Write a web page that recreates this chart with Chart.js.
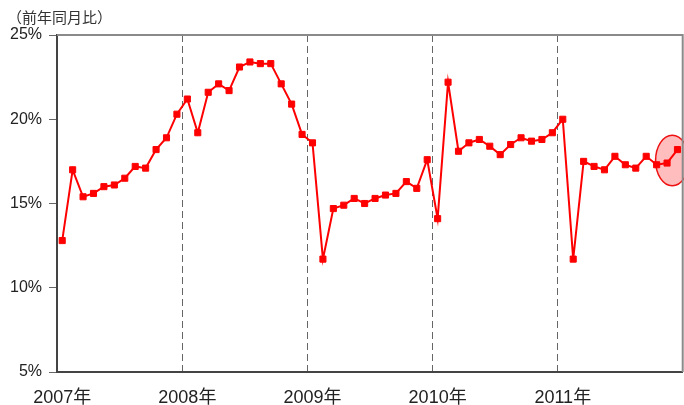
<!DOCTYPE html>
<html>
<head>
<meta charset="utf-8">
<script src="https://cdn.jsdelivr.net/npm/chart.js@4"></script>
<style>
    body { margin: 0; background: #fff; overflow: hidden; }
    #wrap { position: relative; width: 684px; height: 405px; overflow: hidden; }
    #unit {
        position: absolute; left: 7px; top: 8px;
        font: 15px 'Noto Sans CJK JP', sans-serif; line-height: 17px; color: #333;
    }
</style>
</head>
<body>
<div id="wrap">
    <div id="unit">（前年同月比）</div>
    <canvas id="chart" width="688" height="405"></canvas>
</div>
<script>
// year labels (one per 12 monthly points)
const years = ['2007年', '2008年', '2009年', '2010年', '2011年'];

// monthly year-on-year growth (%), Jan 2007 - Dec 2011
const growth2007 = [12.8, 17.0, 15.4, 15.6, 16.0, 16.1, 16.5, 17.2, 17.1, 18.2, 18.9, 20.3];
const growth2008 = [21.2, 19.2, 21.6, 22.1, 21.7, 23.1, 23.4, 23.3, 23.3, 22.1, 20.9, 19.1];
const growth2009 = [18.6, 11.7, 14.7, 14.9, 15.3, 15.0, 15.3, 15.5, 15.6, 16.3, 15.9, 17.6];
const growth2010 = [14.1, 22.2, 18.1, 18.6, 18.8, 18.4, 17.9, 18.5, 18.9, 18.7, 18.8, 19.2];
const growth2011 = [20.0, 11.7, 17.5, 17.2, 17.0, 17.8, 17.3, 17.1, 17.8, 17.3, 17.4, 18.2];

const yTicks = [5, 10, 15, 20, 25];

const values = [].concat(growth2007, growth2008, growth2009, growth2010, growth2011);
const labels = [];
years.forEach(y => {
    for (let m = 1; m <= 12; m++) labels.push(y + m + '月');
});

const fontFamily = "'Liberation Sans', 'Noto Sans CJK JP', sans-serif";

// top / right frame lines and the highlight ellipse
const framePlugin = {
    id: 'frame',
    beforeDatasetsDraw(chart) {
        const { ctx, scales: { x, y } } = chart;
        const n = values.length;
        const cx = (x.getPixelForValue(n - 2) + x.getPixelForValue(n - 1)) / 2;
        const cy = y.getPixelForValue(17.55);
        const rx = (x.getPixelForValue(1) - x.getPixelForValue(0)) * 1.6;
        const ry = y.getPixelForValue(0) - y.getPixelForValue(1.5);
        ctx.save();
        ctx.beginPath();
        ctx.ellipse(cx, cy, rx, ry, 0, 0, Math.PI * 2);
        ctx.fillStyle = 'rgba(255, 90, 90, 0.4)';
        ctx.fill();
        ctx.lineWidth = 1.5;
        ctx.strokeStyle = '#ee1111';
        ctx.stroke();
        ctx.restore();
    },
    afterDatasetsDraw(chart) {
        const { ctx, chartArea: a } = chart;
        ctx.save();
        ctx.strokeStyle = '#8a8a8a';
        ctx.lineWidth = 2;
        ctx.beginPath();
        ctx.moveTo(a.left, a.top);
        ctx.lineTo(a.right, a.top);
        ctx.lineTo(a.right, a.bottom);
        ctx.stroke();
        ctx.restore();
    }
};

const ctx = document.getElementById('chart').getContext('2d');
new Chart(ctx, {
    type: 'line',
    data: {
        labels: labels,
        datasets: [{
            data: values,
            borderColor: '#ff0000',
            backgroundColor: '#ff0000',
            borderWidth: 2,
            tension: 0,
            pointStyle: 'rect',
            pointRadius: 4.3,
            pointBorderWidth: 1,
            pointBackgroundColor: '#ff0000',
            pointBorderColor: '#ff0000'
        }]
    },
    options: {
        responsive: false,
        animation: false,
        layout: {
            padding: { top: 35, right: 1, left: 0, bottom: 0 }
        },
        plugins: {
            legend: { display: false },
            tooltip: { enabled: false }
        },
        scales: {
            x: {
                type: 'category',
                offset: true,
                afterFit: scale => { scale.height = 33; },
                grid: {
                    offset: true,
                    drawTicks: true,
                    tickLength: 15,
                    tickColor: 'rgba(0,0,0,0)',
                    lineWidth: 1,
                    color: c => (c.index !== undefined && c.index > 0 && c.index % 12 === 0) ? '#666666' : 'rgba(0,0,0,0)'
                },
                border: { display: true, color: '#444444', width: 2, dash: [7, 4] },
                ticks: {
                    autoSkip: false,
                    maxRotation: 0,
                    padding: 0,
                    color: '#222222',
                    font: { family: fontFamily, size: 18 },
                    callback: (v, i) => (i % 12 === 0 ? years[i / 12] : '')
                }
            },
            y: {
                min: yTicks[0],
                max: yTicks[yTicks.length - 1],
                afterFit: scale => { scale.width = 57; },
                afterBuildTicks: scale => { scale.ticks = yTicks.map(v => ({ value: v })); },
                grid: {
                    drawOnChartArea: false,
                    drawTicks: true,
                    tickLength: 8,
                    tickColor: '#666666'
                },
                border: { display: true, color: '#444444', width: 2 },
                ticks: {
                    padding: 7,
                    color: '#222222',
                    font: { family: fontFamily, size: 16 },
                    callback: v => v + '%'
                }
            }
        }
    },
    plugins: [framePlugin]
});
</script>
</body>
</html>
